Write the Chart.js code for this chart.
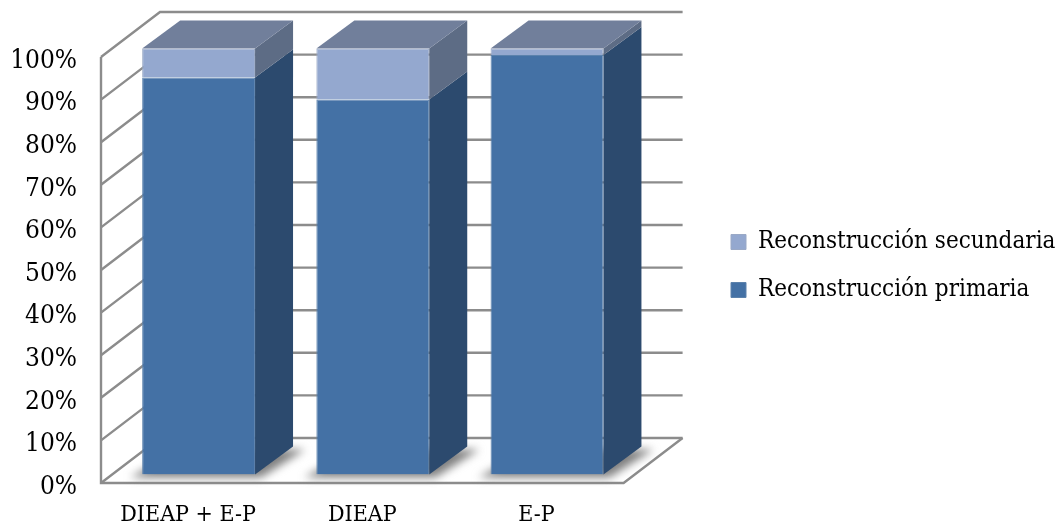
<!DOCTYPE html>
<html>
<head>
<meta charset="utf-8">
<script src="https://cdn.jsdelivr.net/npm/chart.js@4"></script>
<style>
  html, body { margin: 0; padding: 0; background: #fff; }
  canvas { display: block; }
</style>
</head>
<body>
<canvas id="reconChart" width="1062" height="527"></canvas>
<script>
const categories = ['DIEAP + E-P', 'DIEAP', 'E-P'];
const primaria = [93.2, 88, 98.5];
const secundaria = [6.8, 12, 1.5];
const yTicks = [0, 10, 20, 30, 40, 50, 60, 70, 80, 90, 100];

const FONT = '"DejaVu Serif Condensed", "DejaVu Serif", "Liberation Serif", serif';
const GRID = '#8c8c8c';
// the value labels sit slightly below the lines they name, so the scale is
// laid out 4px lower than the drawn frame
const FRAME_SHIFT = -4;
// depth of the box the chart sits in, and of the bars inside it
const WALL = { x: 59, y: -45 };
const BAR_FRONT = { x: 10.5, y: -8.5 + FRAME_SHIFT };
const BAR_DEPTH = { x: 38, y: -28 };

const faceColors = [
    { side: '#2c4a6e', top: '#2c4a6e' },
    { side: '#5d6c85', top: '#717f9b' }
];

function poly(ctx, pts, fill) {
    ctx.beginPath();
    pts.forEach(function(p, i) {
        if (i === 0) ctx.moveTo(p[0], p[1]); else ctx.lineTo(p[0], p[1]);
    });
    ctx.closePath();
    ctx.fillStyle = fill;
    ctx.fill();
}

// Walls, floor and gridlines of the 3D box
const boxPlugin = {
    id: 'box3d',
    beforeDatasetsDraw(chart) {
        const ctx = chart.ctx;
        const y = chart.scales.y;
        const left = chart.chartArea.left;
        const right = chart.chartArea.right;
        ctx.save();
        ctx.translate(0, FRAME_SHIFT);
        ctx.strokeStyle = GRID;
        ctx.lineWidth = 2.4;
        ctx.lineJoin = 'miter';
        yTicks.forEach(function(v) {
            const py = y.getPixelForValue(v);
            ctx.beginPath();
            ctx.moveTo(left, py);
            ctx.lineTo(left + WALL.x, py + WALL.y);
            ctx.lineTo(right + WALL.x, py + WALL.y);
            ctx.stroke();
        });
        const bottom = y.getPixelForValue(0);
        ctx.beginPath();
        ctx.moveTo(left, y.getPixelForValue(100));
        ctx.lineTo(left, bottom);
        ctx.lineTo(right, bottom);
        ctx.lineTo(right + WALL.x, bottom + WALL.y);
        ctx.stroke();
        ctx.restore();
    }
};

// Floor shadow plus side and top faces; the front faces are the library's own bars
const barFacesPlugin = {
    id: 'barFaces',
    beforeDatasetsDraw(chart) {
        const ctx = chart.ctx;
        const d = BAR_DEPTH;
        ctx.save();
        ctx.translate(BAR_FRONT.x, BAR_FRONT.y);
        const base = chart.getDatasetMeta(0).data;
        ctx.filter = 'blur(4px)';
        base.forEach(function(bar) {
            const l = bar.x - bar.width / 2;
            const r = bar.x + bar.width / 2;
            const b = bar.base;
            poly(ctx, [[l - 12, b + 3], [r + 6, b + 3], [r + d.x + 12, b + d.y + 3], [l + d.x, b + d.y + 3]], '#808080');
        });
        ctx.filter = 'none';
        chart.data.datasets.forEach(function(ds, i) {
            chart.getDatasetMeta(i).data.forEach(function(bar) {
                const r = bar.x + bar.width / 2;
                poly(ctx, [[r, bar.y], [r + d.x, bar.y + d.y], [r + d.x, bar.base + d.y], [r, bar.base]], faceColors[i].side);
            });
        });
        const topIdx = chart.data.datasets.length - 1;
        chart.getDatasetMeta(topIdx).data.forEach(function(bar) {
            const l = bar.x - bar.width / 2;
            const r = bar.x + bar.width / 2;
            poly(ctx, [[l, bar.y], [r, bar.y], [r + d.x, bar.y + d.y], [l + d.x, bar.y + d.y]], faceColors[topIdx].top);
        });
        ctx.restore();
        // front faces land on the same plane as the side and top faces
        ctx.save();
        ctx.translate(BAR_FRONT.x, BAR_FRONT.y);
    },
    afterDatasetsDraw(chart) {
        chart.ctx.restore();
    }
};

// The legend keeps its own drawing, only placed further out and up
const legendPlugin = {
    id: 'legendSpot',
    afterLayout(chart) {
        const legend = chart.legend;
        legend.left = 707;
        legend.right = 1062;
        legend.top -= 28;
        legend.bottom -= 28;
    }
};

new Chart(document.getElementById('reconChart'), {
    type: 'bar',
    data: {
        labels: categories,
        datasets: [
            { label: 'Reconstrucción primaria', data: primaria, backgroundColor: '#4471a5', borderColor: '#5c82ac', borderWidth: 1 },
            { label: 'Reconstrucción secundaria', data: secundaria, backgroundColor: '#94a8cf', borderColor: '#9aa9c6', borderWidth: 1 }
        ]
    },
    plugins: [boxPlugin, barFacesPlugin, legendPlugin],
    options: {
        responsive: false,
        animation: false,
        layout: { padding: { top: 61, right: 80 } },
        datasets: { bar: { categoryPercentage: 1, barPercentage: 0.648 } },
        plugins: {
            tooltip: { enabled: false },
            legend: {
                position: 'right',
                reverse: true,
                maxWidth: 360,
                labels: {
                    boxWidth: 15,
                    boxHeight: 15,
                    padding: 24,
                    color: '#000',
                    font: { family: FONT, size: 24 }
                }
            }
        },
        scales: {
            x: {
                stacked: true,
                grid: { display: false, drawTicks: false },
                border: { display: false },
                afterFit(scale) { scale.height = 40; },
                ticks: { maxRotation: 0, padding: 14, color: '#000', font: { family: FONT, size: 23 } }
            },
            y: {
                stacked: true,
                min: 0,
                max: 100,
                grid: { display: false, drawTicks: false },
                border: { display: false },
                afterFit(scale) { scale.width = 101; },
                ticks: {
                    stepSize: 10,
                    padding: 24,
                    color: '#000',
                    font: { family: FONT, size: 26 },
                    callback: function(v) { return v + '%'; }
                }
            }
        }
    }
});
</script>
</body>
</html>
